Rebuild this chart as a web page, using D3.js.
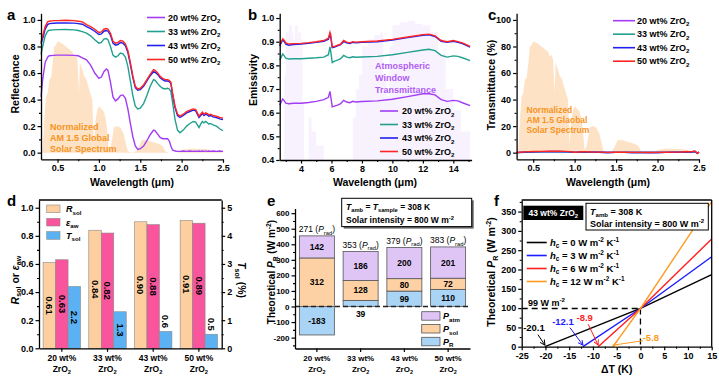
<!DOCTYPE html>
<html><head><meta charset="utf-8">
<script src="https://cdn.jsdelivr.net/npm/d3@7"></script>
<style>body{margin:0;background:#fff}svg{display:block}</style>
</head><body><svg id="c" width="719" height="378"></svg>
<script>
// ---------------- DATA ----------------
const seriesNames = ["20 wt% ZrO_{2}", "33 wt% ZrO_{2}", "43 wt% ZrO_{2}", "50 wt% ZrO_{2}"];

// AM1.5G normalized solar spectrum
const solarWl = [0.30,0.32,0.34,0.36,0.38,0.40,0.42,0.44,0.46,0.48,0.50,0.53,0.56,0.60,0.64,0.68,0.70,0.72,0.74,0.76,0.77,0.78,0.80,0.82,0.85,0.88,0.90,0.92,0.94,0.96,0.98,1.00,1.03,1.06,1.08,1.10,1.12,1.14,1.16,1.18,1.22,1.26,1.30,1.33,1.35,1.40,1.45,1.48,1.52,1.56,1.60,1.65,1.70,1.75,1.78,1.80,1.85,1.95,2.00,2.05,2.10,2.20,2.30,2.35,2.40,2.45,2.50];
const solarVal = [0,0.02,0.25,0.42,0.45,0.55,0.56,0.66,0.80,0.81,0.84,0.83,0.82,0.80,0.78,0.76,0.72,0.74,0.70,0.45,0.68,0.66,0.62,0.58,0.55,0.48,0.44,0.40,0.06,0.25,0.32,0.35,0.33,0.31,0.26,0.17,0.02,0.04,0.10,0.19,0.20,0.19,0.14,0.06,0.01,0.0,0.01,0.04,0.095,0.095,0.09,0.08,0.07,0.06,0.04,0.01,0.0,0.0,0.02,0.025,0.03,0.03,0.025,0.02,0.015,0.01,0.005];

// (a) reflectance
const aWl = [0.30,0.32,0.35,0.38,0.40,0.45,0.50,0.60,0.70,0.75,0.80,0.85,0.90,0.95,1.00,1.03,1.06,1.09,1.11,1.14,1.17,1.20,1.23,1.26,1.29,1.32,1.35,1.38,1.41,1.44,1.47,1.50,1.54,1.58,1.62,1.66,1.68,1.71,1.74,1.77,1.80,1.83,1.85,1.87,1.89,1.92,1.95,1.98,2.02,2.06,2.10,2.14,2.17,2.19,2.21,2.23,2.25,2.27,2.29,2.31,2.33,2.35,2.38,2.42,2.46,2.50];
const aR20 = [0.42,0.55,0.68,0.72,0.73,0.733,0.735,0.735,0.733,0.73,0.715,0.70,0.66,0.60,0.56,0.57,0.61,0.63,0.62,0.53,0.42,0.39,0.405,0.43,0.435,0.41,0.33,0.22,0.12,0.05,0.025,0.03,0.05,0.09,0.135,0.17,0.165,0.14,0.115,0.105,0.105,0.105,0.09,0.05,0.02,0.012,0.01,0.01,0.012,0.01,0.012,0.01,0.011,0.01,0.012,0.01,0.012,0.01,0.013,0.01,0.012,0.01,0.012,0.01,0.012,0.01];
const aR33 = [0.74,0.80,0.88,0.915,0.922,0.925,0.927,0.928,0.925,0.92,0.912,0.90,0.88,0.85,0.825,0.83,0.855,0.86,0.85,0.80,0.735,0.72,0.73,0.75,0.745,0.72,0.65,0.54,0.43,0.35,0.33,0.335,0.37,0.43,0.50,0.55,0.545,0.52,0.50,0.485,0.48,0.485,0.48,0.46,0.38,0.25,0.17,0.15,0.17,0.20,0.22,0.235,0.23,0.21,0.19,0.215,0.235,0.225,0.235,0.225,0.215,0.22,0.21,0.20,0.18,0.165];
const aR43 = [0.82,0.86,0.93,0.965,0.972,0.975,0.977,0.978,0.976,0.972,0.968,0.95,0.935,0.915,0.89,0.895,0.915,0.92,0.915,0.885,0.825,0.81,0.815,0.83,0.825,0.805,0.755,0.665,0.565,0.49,0.47,0.475,0.50,0.54,0.58,0.61,0.605,0.59,0.565,0.55,0.54,0.54,0.535,0.52,0.44,0.34,0.28,0.265,0.28,0.30,0.31,0.32,0.315,0.29,0.265,0.28,0.295,0.28,0.29,0.285,0.275,0.28,0.27,0.265,0.255,0.25];
const aR50 = [0.83,0.88,0.95,0.985,0.99,0.995,0.995,0.998,0.995,0.99,0.985,0.965,0.95,0.93,0.905,0.91,0.93,0.935,0.93,0.90,0.84,0.825,0.83,0.845,0.84,0.82,0.77,0.68,0.58,0.50,0.48,0.485,0.51,0.55,0.59,0.625,0.62,0.60,0.575,0.56,0.55,0.55,0.545,0.53,0.45,0.35,0.29,0.275,0.29,0.31,0.32,0.33,0.325,0.30,0.275,0.29,0.305,0.29,0.30,0.295,0.285,0.29,0.28,0.275,0.265,0.26];

// (b) emissivity
const bWl = [2.6,2.7,2.8,2.9,3.0,3.2,3.5,4.0,4.5,5.0,5.5,5.8,5.9,5.95,6.05,6.2,6.4,6.6,6.8,7.0,7.2,7.4,7.6,8,9,10,11,12,12.4,12.8,13.2,13.6,14,14.3,14.6,15.1];
const bE20 = [0.632,0.645,0.658,0.65,0.64,0.638,0.64,0.64,0.643,0.648,0.655,0.665,0.69,0.67,0.625,0.628,0.632,0.638,0.652,0.645,0.642,0.648,0.645,0.647,0.65,0.657,0.668,0.68,0.68,0.675,0.655,0.648,0.652,0.65,0.642,0.63];
const bE33 = [0.822,0.835,0.848,0.84,0.83,0.827,0.828,0.828,0.83,0.832,0.835,0.845,0.878,0.86,0.812,0.818,0.822,0.828,0.842,0.835,0.832,0.836,0.834,0.835,0.838,0.845,0.855,0.865,0.868,0.862,0.842,0.835,0.84,0.838,0.832,0.82];
const bE43 = [0.882,0.895,0.908,0.90,0.89,0.885,0.888,0.89,0.893,0.897,0.902,0.91,0.93,0.92,0.875,0.877,0.882,0.887,0.90,0.895,0.892,0.897,0.895,0.897,0.90,0.907,0.917,0.927,0.929,0.922,0.902,0.897,0.902,0.897,0.892,0.877];
const bE50 = [0.886,0.90,0.912,0.905,0.895,0.89,0.892,0.893,0.896,0.90,0.905,0.915,0.94,0.93,0.878,0.88,0.885,0.89,0.905,0.898,0.895,0.90,0.898,0.90,0.903,0.91,0.92,0.93,0.932,0.925,0.905,0.90,0.905,0.90,0.895,0.88];
// atmospheric window transmittance (fraction)
const atmWl = [2.6,2.85,2.9,3.0,3.2,3.4,3.5,3.6,3.8,4.0,4.1,4.2,4.3,4.5,4.7,5.0,5.5,7.0,7.4,7.6,7.8,8.0,8.4,8.8,9.2,9.4,9.6,9.8,10.0,10.5,11.0,11.5,12.0,12.5,13.0,13.5,14.0,14.5,15.1];
const atmVal = [0,0,0.6,0.9,0.95,0.9,0.85,0.95,0.9,0.85,0.4,0,0,0.3,0.2,0.1,0,0,0.3,0.5,0.6,0.8,0.85,0.88,0.9,0.6,0.45,0.8,0.95,0.97,0.98,0.96,0.95,0.9,0.75,0.5,0.35,0.2,0.1];

// (c) transmittance (%)
const cWl = [0.3,0.4,0.5,0.6,0.7,0.8,0.9,0.95,1.0,1.05,1.1,1.2,1.3,1.4,1.5,1.6,1.7,1.8,1.9,2.0,2.1,2.2,2.3,2.35,2.4,2.45,2.48,2.5];
const cT20 = [0.0,0.3,0.5,0.6,0.6,0.6,0.5,0.4,0.2,0.3,0.4,0.3,0.2,0.1,0.2,0.2,0.1,0.1,0.1,0.1,0.2,0.2,0.3,0.5,0.3,0.6,-0.2,0.2];
const cT33 = [0.0,0.3,0.5,0.6,0.7,0.7,0.6,0.5,0.2,0.3,0.5,0.3,0.2,0.1,0.2,0.2,0.1,0.1,0.1,0.1,0.2,0.3,0.3,0.6,0.4,0.8,-0.3,0.3];
const cT43 = [0.0,0.4,0.7,0.8,0.9,0.9,0.8,0.6,0.2,0.4,0.6,0.4,0.3,0.1,0.2,0.2,0.1,0.1,0.1,0.1,0.2,0.3,0.4,0.7,0.5,1.0,-0.4,0.4];
const cT50 = [0.1,0.6,0.9,1.0,1.1,1.1,1.0,0.8,0.3,0.5,0.8,0.5,0.4,0.2,0.3,0.3,0.2,0.2,0.1,0.2,0.3,0.4,0.5,0.9,0.6,1.2,-0.6,0.5];

// (d) bars
const dCats = ["20 wt%", "33 wt%", "43 wt%", "50 wt%"];
const dRsol = [0.61, 0.84, 0.90, 0.91];
const dEaw = [0.63, 0.82, 0.88, 0.89];
const dTsol = [2.2, 1.3, 0.6, 0.5];

// (e) stacked bars
const eCats = ["20 wt%", "33 wt%", "43 wt%", "50 wt%"];
const ePR = [-183, 39, 99, 110];
const ePsol = [312, 128, 80, 72];
const ePatm = [142, 186, 200, 201];
const ePrad = [271, 353, 379, 383];

// (f) lines
const fHc = [0, 3, 6, 12];
const fZero = [-20.1, -12.1, -8.9, -5.8];
const fAt0 = 99;
const fEnd = [187, 233, 279, 376];

// ---------------- HELPERS ----------------
const FONT = '"Liberation Sans", Arial, Helvetica, sans-serif';
const svg = d3.select("#c");
svg.append("rect").attr("width", 719).attr("height", 378).attr("fill", "#fff");
const colors4 = ["#a23cf5", "#22a08f", "#2020ee", "#ff2626"];

function rich(parent, str, x, y, fs, o = {}) {
  const t = parent.append("text").attr("x", x).attr("y", y)
    .attr("font-size", fs).attr("font-family", FONT)
    .attr("font-weight", o.weight || "bold").attr("fill", o.fill || "#000")
    .attr("text-anchor", o.anchor || "start");
  if (o.transform) t.attr("transform", o.transform);
  const segs = []; let i = 0, italic = false, buf = "";
  const push = (text, type) => { if (text) segs.push({ text, type, italic }); };
  while (i < str.length) {
    const ch = str[i];
    if ((ch === "_" || ch === "^") && str[i + 1] === "{") {
      push(buf, null); buf = "";
      const j = str.indexOf("}", i);
      push(str.slice(i + 2, j), ch === "_" ? "sub" : "sup");
      i = j + 1; continue;
    }
    if (ch === "~") { push(buf, null); buf = ""; italic = !italic; i++; continue; }
    buf += ch; i++;
  }
  push(buf, null);
  let shift = 0;
  segs.forEach(s => {
    const target = s.type === "sub" ? fs * 0.28 : s.type === "sup" ? -fs * 0.4 : 0;
    const ts = t.append("tspan").text(s.text);
    if (target - shift !== 0) ts.attr("dy", target - shift);
    shift = target;
    if (s.type) ts.attr("font-size", fs * 0.68);
    if (s.italic) ts.attr("font-style", "italic");
  });
  return t;
}

function drawAxis(parent, orient, scale, major, minor, fmt, tx, ty, fs = 9) {
  const mk = { left: d3.axisLeft, right: d3.axisRight, bottom: d3.axisBottom, top: d3.axisTop }[orient];
  if (minor) {
    const gm = parent.append("g").attr("transform", `translate(${tx},${ty})`);
    gm.call(mk(scale).tickValues(minor).tickFormat("").tickSize(2).tickSizeOuter(0));
    gm.select(".domain").remove();
    gm.selectAll("line").attr("stroke-width", 1.1);
  }
  const g = parent.append("g").attr("transform", `translate(${tx},${ty})`);
  g.call(mk(scale).tickValues(major).tickFormat(fmt).tickSize(3.5).tickSizeOuter(0).tickPadding(2));
  g.attr("font-family", FONT).attr("font-size", fs).attr("font-weight", "bold");
  g.selectAll("line").attr("stroke-width", 1.2);
  g.select(".domain").attr("stroke-width", 1.3);
  return g;
}
const f1 = d3.format(".1f");
const fstr = d => String(d);
function letter(t, x, y) {
  svg.append("text").attr("x", x).attr("y", y).text(t).attr("font-family", FONT)
    .attr("font-weight", "bold").attr("font-size", 15);
}
function lineOf(xs, ys, sx, sy) {
  return d3.line().x((d, i) => sx(xs[i])).y((d, i) => sy(ys[i]))(xs);
}

// ---------------- PANEL A ----------------
{
  const g = svg.append("g");
  const x = d3.scaleLinear([0.3, 2.5], [41, 223]);
  const y = d3.scaleLinear([-0.05, 1.05], [159.3, 13.3]);
  g.append("path").attr("d", d3.area().x((d, i) => x(solarWl[i])).y0(y(0)).y1((d, i) => y(solarVal[i]))(solarWl))
    .attr("fill", "#fde2c6");
  ["Normalized", "AM 1.5 Global", "Solar Spectrum"].forEach((s, i) =>
    rich(g, s, 50, 129.5 + i * 11, 9, { fill: "#f7941d" }));
  [aR20, aR33, aR43, aR50].forEach((arr, k) =>
    g.append("path").attr("d", lineOf(aWl, arr, x, y)).attr("fill", "none")
      .attr("stroke", colors4[k]).attr("stroke-width", 1.4));
  drawAxis(g, "left", y, [0, 0.2, 0.4, 0.6, 0.8, 1.0], [0.1, 0.3, 0.5, 0.7, 0.9], f1, 41, 0);
  drawAxis(g, "bottom", x, [0.5, 1.0, 1.5, 2.0, 2.5], [0.75, 1.25, 1.75, 2.25], f1, 0, 159.3);
  rich(g, "Reflectance", 0, 0, 10.5, { anchor: "middle", transform: "translate(18.5,84) rotate(-90)" });
  rich(g, "Wavelength (μm)", 132, 186, 10.5, { anchor: "middle" });
  seriesNames.forEach((s, k) => {
    const yy = 17.5 + k * 14;
    g.append("line").attr("x1", 147).attr("x2", 165).attr("y1", yy).attr("y2", yy)
      .attr("stroke", colors4[k]).attr("stroke-width", 1.6);
    rich(g, s, 168, yy + 3.2, 9);
  });
  letter("a", 7, 20);
}

// ---------------- PANEL B ----------------
{
  const g = svg.append("g");
  const x = d3.scaleLinear([2.6, 15.2], [279.7, 471.6]);
  const y = d3.scaleLinear([0.4, 1.02], [160, 13.3]);
  const yT = d3.scaleLinear([0, 1], [160, y(1.0)]);
  g.append("path").attr("d", d3.area().x((d, i) => x(atmWl[i])).y0(160).y1((d, i) => yT(atmVal[i])).curve(d3.curveStepAfter)(atmWl))
    .attr("fill", "#f5eefd").attr("opacity", 0.75);
  [bE20, bE33, bE43, bE50].forEach((arr, k) =>
    g.append("path").attr("d", lineOf(bWl, arr, x, y)).attr("fill", "none")
      .attr("stroke", colors4[k]).attr("stroke-width", 1.4));
  drawAxis(g, "left", y, [0.4, 0.5, 0.6, 0.7, 0.8, 0.9, 1.0], [0.45, 0.55, 0.65, 0.75, 0.85, 0.95], f1, 279.7, 0);
  drawAxis(g, "bottom", x, [4, 6, 8, 10, 12, 14], [3, 5, 7, 9, 11, 13, 15], fstr, 0, 160);
  rich(g, "Emissivity", 0, 0, 10.5, { anchor: "middle", transform: "translate(257,80) rotate(-90)" });
  rich(g, "Wavelength (μm)", 375, 186, 10.5, { anchor: "middle" });
  ["Atmospheric", "Window", "Transmittance"].forEach((s, i) =>
    rich(g, s, 375, 68.5 + i * 12, 9, { fill: "#b05cf5" }));
  seriesNames.forEach((s, k) => {
    const yy = 111 + k * 13.5;
    g.append("line").attr("x1", 380).attr("x2", 398).attr("y1", yy).attr("y2", yy)
      .attr("stroke", colors4[k]).attr("stroke-width", 1.6);
    rich(g, s, 402, yy + 3.2, 9);
  });
  letter("b", 248, 20);
}

// ---------------- PANEL C ----------------
{
  const g = svg.append("g");
  const x = d3.scaleLinear([0.3, 2.5], [516.6, 699]);
  const y = d3.scaleLinear([-5, 105], [159.3, 13.3]);
  g.append("path").attr("d", d3.area().x((d, i) => x(solarWl[i])).y0(y(0)).y1((d, i) => y(solarVal[i] * 100))(solarWl))
    .attr("fill", "#fde2c6");
  ["Normalized", "AM 1.5 Glaobal", "Solar Spectrum"].forEach((s, i) =>
    rich(g, s, 526.5, 113 + i * 9.8, 8.5, { fill: "#f7941d" }));
  [cT20, cT33, cT43, cT50].forEach((arr, k) =>
    g.append("path").attr("d", lineOf(cWl, arr, x, y)).attr("fill", "none")
      .attr("stroke", colors4[k]).attr("stroke-width", 1.4));
  drawAxis(g, "left", y, [0, 20, 40, 60, 80, 100], [10, 30, 50, 70, 90], fstr, 516.6, 0);
  drawAxis(g, "bottom", x, [0.5, 1.0, 1.5, 2.0, 2.5], [0.75, 1.25, 1.75, 2.25], f1, 0, 159.3);
  rich(g, "Transmittance (%)", 0, 0, 10.5, { anchor: "middle", transform: "translate(495,85) rotate(-90)" });
  rich(g, "Wavelength (μm)", 608, 186, 10.5, { anchor: "middle" });
  seriesNames.forEach((s, k) => {
    const yy = 20.7 + k * 13.5;
    g.append("line").attr("x1", 613).attr("x2", 635).attr("y1", yy).attr("y2", yy)
      .attr("stroke", colors4[k]).attr("stroke-width", 1.6);
    rich(g, s, 637, yy + 3.2, 9);
  });
  letter("c", 488, 20);
}

// ---------------- PANEL D ----------------
{
  const g = svg.append("g");
  const L = 39, R = 221.7, T = 200, B = 348.3;
  const x = d3.scaleBand(dCats, [L, R]).paddingInner(0.18).paddingOuter(0.09);
  const xs = d3.scaleBand(["R", "E", "T"], [0, x.bandwidth()]);
  const y = d3.scaleLinear([0, 1.055], [B, T]);
  const y2 = d3.scaleLinear([0, 5.275], [B, T]);
  const cols = { R: "#fdcf9f", E: "#f8559d", T: "#5cb1f3" };
  dCats.forEach((c, i) => {
    const bars = [["R", dRsol[i], y(dRsol[i])], ["E", dEaw[i], y(dEaw[i])], ["T", dTsol[i], y2(dTsol[i])]];
    bars.forEach(([k, v, top]) => {
      const bx = x(c) + xs(k);
      g.append("rect").attr("x", bx).attr("y", top).attr("width", xs.bandwidth()).attr("height", B - top)
        .attr("fill", cols[k]).attr("stroke", "#8a8a8a").attr("stroke-width", 0.6);
      const lbl = k === "T" ? v.toFixed(1) : v.toFixed(2);
      const cx = bx + xs.bandwidth() / 2;
      const h = B - top;
      const fs = 9.5;
      const len = lbl.length * 5.3;
      let cy = (B + top) / 2;
      if (h < len + 6) cy = top - 2 - len / 2;
      rich(g, lbl, 0, 0, fs, { anchor: "middle", transform: `translate(${cx - fs * 0.35},${cy}) rotate(90)` });
    });
  });
  g.append("line").attr("x1", L).attr("x2", R).attr("y1", T).attr("y2", T).attr("stroke", "#000").attr("stroke-width", 1.3);
  drawAxis(g, "left", y, [0, 0.2, 0.4, 0.6, 0.8, 1.0], [0.1, 0.3, 0.5, 0.7, 0.9], f1, L, 0);
  drawAxis(g, "right", y2, [0, 1, 2, 3, 4, 5], [0.5, 1.5, 2.5, 3.5, 4.5], fstr, R, 0);
  drawAxis(g, "bottom", x, dCats, null, "", 0, B);
  dCats.forEach(c => {
    const cx = x(c) + x.bandwidth() / 2;
    rich(g, c, cx, 361, 8.5, { anchor: "middle" });
    rich(g, "ZrO_{2}", cx, 372, 8.5, { anchor: "middle" });
  });
  rich(g, "~R~_{sol} or ~ε~_{aw}", 0, 0, 10.5, { anchor: "middle", transform: "translate(18.5,280) rotate(-90)" });
  rich(g, "~T~_{sol} (%)", 0, 0, 10.5, { anchor: "middle", transform: "translate(238,280) rotate(90)" });
  [["R", "~R~_{sol}"], ["E", "~ε~_{aw}"], ["T", "~T~_{sol}"]].forEach(([k, s], i) => {
    const yy = 205 + i * 13.3;
    g.append("rect").attr("x", 46.7).attr("y", yy).attr("width", 13.3).attr("height", 7.7)
      .attr("fill", cols[k]).attr("stroke", "#8a8a8a").attr("stroke-width", 0.6);
    rich(g, s, 66, yy + 7.2, 9);
  });
  letter("d", 7, 206);
}

// ---------------- PANEL E ----------------
{
  const g = svg.append("g");
  const L = 295, R = 470;
  const x = d3.scaleBand(eCats, [L, R]).paddingInner(0.2).paddingOuter(0.1);
  const y = d3.scaleLinear([-270, 630], [348.5, 208.5]);
  const cols = { atm: "#dfc5f6", sol: "#fdd1a4", R: "#a9d4f6" };
  eCats.forEach((c, i) => {
    const bx = x(c), bw = x.bandwidth(), cx = bx + bw / 2;
    const base = Math.max(ePR[i], 0);
    const segs = [
      ["R", 0, ePR[i], ePR[i]],
      ["sol", base, base + ePsol[i], ePsol[i]],
      ["atm", base + ePsol[i], base + ePsol[i] + ePatm[i], ePatm[i]]
    ];
    segs.forEach(([k, a, b, v]) => {
      const y0 = y(Math.max(a, b)), y1 = y(Math.min(a, b));
      g.append("rect").attr("x", bx).attr("y", y0).attr("width", bw).attr("height", y1 - y0)
        .attr("fill", cols[k]).attr("stroke", "#555").attr("stroke-width", 0.8);
      let ly = (y0 + y1) / 2 + 3;
      if (y1 - y0 < 10) ly = y(0) + 10;
      rich(g, String(v), cx, ly, 8.5, { anchor: "middle" });
    });
    const top = y(base + ePsol[i] + ePatm[i]);
    rich(g, ePrad[i] + " (~P~_{rad})", cx, top - 3.5, 8.5, { anchor: "middle", weight: "normal" });
  });
  g.append("line").attr("x1", L).attr("x2", R).attr("y1", y(0)).attr("y2", y(0))
    .attr("stroke", "#222").attr("stroke-width", 1.3).attr("stroke-dasharray", "5,3");
  drawAxis(g, "left", y, [-200, -100, 0, 100, 200, 300, 400, 500, 600], [-250, -150, -50, 50, 150, 250, 350, 450, 550], fstr, L, 0, 8);
  drawAxis(g, "bottom", x, eCats, null, "", 0, 348.5);
  eCats.forEach(c => {
    const cx = x(c) + x.bandwidth() / 2;
    rich(g, c, cx, 361, 8, { anchor: "middle" });
    rich(g, "ZrO_{2}", cx, 372, 8, { anchor: "middle" });
  });
  rich(g, "Theoretical ~P~_{R} (W m^{-2})", 0, 0, 10, { anchor: "middle", transform: "translate(275,272) rotate(-90)" });
  [["atm", "~P~_{atm}"], ["sol", "~P~_{sol}"], ["R", "~P~_{R}"]].forEach(([k, s], i) => {
    const yy = 311.7 + i * 12.8;
    g.append("rect").attr("x", 421.7).attr("y", yy).attr("width", 18.3).attr("height", 8.5)
      .attr("fill", cols[k]).attr("stroke", "#555").attr("stroke-width", 0.8);
    rich(g, s, 443, yy + 7.5, 9);
  });
  g.append("rect").attr("x", 343.7).attr("y", 200.3).attr("width", 130).attr("height", 28.3).attr("fill", "#666");
  g.append("rect").attr("x", 341.7).attr("y", 198.3).attr("width", 130).attr("height", 28.3)
    .attr("fill", "#fff").attr("stroke", "#000").attr("stroke-width", 1);
  rich(g, "~T~_{amb} = ~T~_{sample} = 308 K", 346, 210, 8.5);
  rich(g, "Solar intensity = 800 W m^{-2}", 346, 223, 8.5);
  letter("e", 267, 206);
}

// ---------------- PANEL F ----------------
{
  const g = svg.append("g");
  const L = 521.7, R = 711.7, T = 200, B = 346.7;
  const x = d3.scaleLinear([-25, 15], [L, R]);
  const y = d3.scaleLinear([0, 380], [B, T]);
  const fcols = ["#000000", "#1c1cff", "#ff1f1f", "#ff9b21"];
  g.append("line").attr("x1", x(-25)).attr("x2", x(0)).attr("y1", y(fAt0)).attr("y2", y(fAt0))
    .attr("stroke", "#000").attr("stroke-width", 1.3).attr("stroke-dasharray", "6,4");
  g.append("line").attr("x1", x(0)).attr("x2", x(0)).attr("y1", y(fAt0)).attr("y2", y(0))
    .attr("stroke", "#000").attr("stroke-width", 1.3).attr("stroke-dasharray", "6,4");
  fHc.forEach((h, k) => {
    const xs = [fZero[k], 0, 15], ys = [0, fAt0, fEnd[k]];
    g.append("path").attr("d", lineOf(xs, ys, x, y)).attr("fill", "none")
      .attr("stroke", fcols[k]).attr("stroke-width", 1.4);
  });
  g.append("line").attr("x1", L).attr("x2", R).attr("y1", T).attr("y2", T).attr("stroke", "#000").attr("stroke-width", 1.3);
  g.append("line").attr("x1", R).attr("x2", R).attr("y1", T).attr("y2", B).attr("stroke", "#000").attr("stroke-width", 1.3);
  drawAxis(g, "left", y, [0, 50, 100, 150, 200, 250, 300, 350], [25, 75, 125, 175, 225, 275, 325, 375], fstr, L, 0);
  drawAxis(g, "bottom", x, [-25, -20, -15, -10, -5, 0, 5, 10, 15], [-22.5, -17.5, -12.5, -7.5, -2.5, 2.5, 7.5, 12.5], fstr, 0, B);
  rich(g, "ΔT (K)", 616.7, 373, 10.5, { anchor: "middle" });
  rich(g, "Theoretical ~P~_{R} (W m^{-2})", 0, 0, 10.5, { anchor: "middle", transform: "translate(495,272) rotate(-90)" });
  rich(g, "99 W m^{-2}", 528, 305.5, 9);
  const defs = svg.append("defs");
  fcols.forEach((c, k) => {
    defs.append("marker").attr("id", "ah" + k).attr("viewBox", "0 0 8 8").attr("refX", 7).attr("refY", 4)
      .attr("markerWidth", 6).attr("markerHeight", 6).attr("markerUnits", "userSpaceOnUse").attr("orient", "auto")
      .append("path").attr("d", "M0,0.5 L7,4 L0,7.5").attr("fill", "none").attr("stroke", c).attr("stroke-width", 1.2);
  });
  const ann = [[-11, -17, -7, -10.5], [-20, -23, -13, -17.5], [-13.5, -27, -10, -21], [38, -7, 30, -4.5]];
  fZero.forEach((z, k) => {
    const tx = x(z), ty = y(0) - 1.5;
    const [dx, dy, ax, ay] = ann[k];
    g.append("line").attr("x1", tx + ax).attr("y1", ty + ay).attr("x2", tx).attr("y2", ty)
      .attr("stroke", fcols[k]).attr("stroke-width", 1).attr("marker-end", `url(#ah${k})`);
    rich(g, String(z), tx + dx, ty + dy + 3, 9.5, { anchor: "middle", fill: fcols[k] });
  });
  fHc.forEach((h, k) => {
    const yy = 242.5 + k * 13;
    g.append("line").attr("x1", 526.7).attr("x2", 546.7).attr("y1", yy).attr("y2", yy)
      .attr("stroke", fcols[k]).attr("stroke-width", 1.6);
    rich(g, `~h~_{c} = ${h} W m^{-2} K^{-1}`, 550, yy + 3.3, 9.5);
  });
  g.append("rect").attr("x", 523.3).attr("y", 205.7).attr("width", 60).attr("height", 14.3).attr("fill", "#000");
  rich(g, "43 wt% ZrO_{2}", 553.3, 216, 8.5, { anchor: "middle", fill: "#fff" });
  g.append("rect").attr("x", 586).attr("y", 203.3).attr("width", 122.3).attr("height", 26.7)
    .attr("fill", "#fff").attr("stroke", "#000").attr("stroke-width", 1);
  rich(g, "~T~_{amb} = 308 K", 590, 214.5, 9);
  rich(g, "Solar intensity = 800 W m^{-2}", 590, 226.5, 9);
  letter("f", 494, 206);
}
</script></body></html>
